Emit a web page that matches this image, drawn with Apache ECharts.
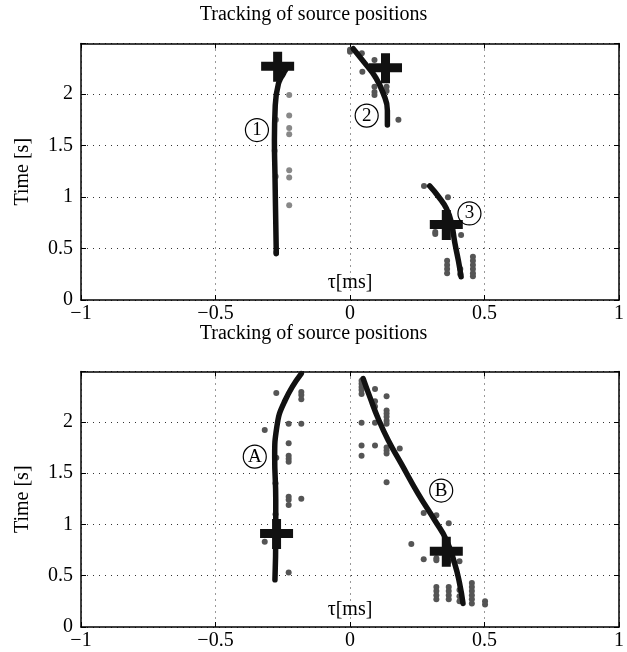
<!DOCTYPE html>
<html><head><meta charset="utf-8">
<script src="https://cdn.jsdelivr.net/npm/echarts@6/dist/echarts.min.js"></script>
<style>html,body{margin:0;padding:0;background:#fff}#c{width:627px;height:652px}</style>
</head><body><div id="c"></div>
<script>
// ---- data ----
const titleText = 'Tracking of source positions';
const xTicks = [-1, -0.5, 0, 0.5, 1];
const yTicks = [0, 0.5, 1, 1.5, 2];

// top panel
const top_curve1 = [[-0.274,0.45],[-0.277,0.91],[-0.279,1.23],[-0.281,1.55],[-0.278,1.88],[-0.266,2.10],[-0.247,2.20],[-0.240,2.23]];
const top_curve2 = [[0.012,2.44],[0.055,2.30],[0.093,2.17],[0.123,2.01],[0.139,1.84],[0.139,1.70]];
const top_curve3 = [[0.296,1.107],[0.330,1.00],[0.358,0.89],[0.376,0.76],[0.390,0.55],[0.403,0.38],[0.413,0.226]];
const top_dotsLight = [[-0.226,1.99],[-0.226,1.79],[-0.226,1.67],[-0.226,1.61],[-0.226,1.26],[-0.226,1.19],[-0.226,0.92],[-0.275,1.75],[-0.280,1.45],[-0.276,1.20],[-0.275,0.46]];
const top_dotsDark = [[0.0,2.43],[0.0,2.41],[0.044,2.395],[0.046,2.216],[0.091,2.33],[0.091,2.07],[0.091,2.02],[0.091,1.99],[0.136,2.07],[0.136,2.03],[0.18,1.75],[0.275,1.107],[0.364,0.997],[0.317,0.66],[0.317,0.64],[0.413,0.63],[0.361,0.38],[0.361,0.34],[0.361,0.30],[0.361,0.26],[0.457,0.42],[0.457,0.38],[0.457,0.34],[0.457,0.30],[0.457,0.26],[0.457,0.23],[0.41,0.30],[0.41,0.25]];
const top_crosses = [[-0.269,2.265],[0.132,2.25],[0.358,0.728]];
const top_labels = [[-0.346,1.65,'1'],[0.062,1.79,'2'],[0.444,0.84,'3']];

// bottom panel
const bot_curveA = [[-0.279,0.46],[-0.276,0.91],[-0.276,1.24],[-0.280,1.66],[-0.272,1.95],[-0.241,2.21],[-0.181,2.47]];
const bot_curveB = [[0.049,2.42],[0.074,2.24],[0.105,2.03],[0.142,1.82],[0.191,1.59],[0.253,1.30],[0.315,1.04],[0.358,0.85],[0.389,0.62],[0.407,0.43],[0.420,0.23]];
const bot_dots = [[-0.274,2.28],[-0.181,2.29],[-0.181,2.26],[-0.181,2.22],[-0.228,1.98],[-0.181,1.98],[-0.317,1.92],[-0.228,1.79],[-0.228,1.67],[-0.228,1.64],[-0.228,1.61],[-0.274,1.65],[-0.228,1.27],[-0.228,1.24],[-0.228,1.19],[-0.181,1.25],[-0.317,0.83],[-0.228,0.53],[-0.277,1.40],[-0.277,1.10],
  [0.043,2.40],[0.043,2.37],[0.043,2.34],[0.043,2.31],[0.093,2.32],[0.043,2.27],[0.093,2.20],[0.093,2.15],[0.136,2.25],[0.136,2.11],[0.136,2.08],[0.136,2.05],[0.136,2.01],[0.136,1.98],[0.043,1.99],[0.093,1.99],[0.043,1.77],[0.043,1.67],[0.093,1.77],[0.136,1.75],[0.136,1.72],[0.136,1.69],[0.185,1.74],[0.136,1.41],[0.274,1.11],[0.321,1.09],[0.367,1.01],[0.228,0.81],[0.274,0.66],[0.321,0.67],[0.321,0.65],[0.367,0.64],[0.407,0.64],[0.321,0.39],[0.321,0.35],[0.321,0.31],[0.321,0.27],[0.367,0.39],[0.367,0.35],[0.367,0.31],[0.367,0.27],[0.407,0.36],[0.407,0.30],[0.407,0.25],[0.453,0.43],[0.453,0.39],[0.453,0.35],[0.453,0.31],[0.453,0.27],[0.453,0.23],[0.502,0.25],[0.502,0.22]];
const bot_crosses = [[-0.273,0.906],[0.358,0.733]];
const bot_labels = [[-0.354,1.66,'A'],[0.339,1.33,'B']];

// ---- chart ----
const FONT = '"Liberation Serif","Times New Roman",serif';
const FS = 20;
const crossPath = 'path://M0,10H12V0H21V10H33V19H21V30H12V19H0Z';
const fmtX = v => xTicks.includes(v) ? String(v).replace('-', '\u2212') : '';
const fmtY = v => yTicks.includes(v) ? String(v) : '';

const grids = [
  {left:81, top:43.5, width:541, height:256.5},
  {left:81, top:371.5, width:541, height:255.5}
];
const xAxes = [], yAxes = [];
grids.forEach((g, i) => {
  xAxes.push({type:'value', gridIndex:i, min:-1, max:1, interval:0.5, position:'bottom',
    name:'\u03c4[ms]', nameLocation:'middle', nameGap:-27,
    nameTextStyle:{fontFamily:FONT, fontSize:FS, color:'#000'},
    axisLine:{show:true, onZero:false, lineStyle:{color:'#000', width:1.5}},
    axisTick:{show:true, inside:true, length:5, lineStyle:{color:'#000'}},
    axisLabel:{formatter:fmtX, fontFamily:FONT, fontSize:FS, color:'#000', margin:4},
    splitLine:{show:true, lineStyle:{color:'#333', type:[1,5], width:1}}
  });
  xAxes.push({type:'value', gridIndex:i, min:-1, max:1, interval:0.5, position:'top',
    axisLine:{show:true, onZero:false, lineStyle:{color:'#000', width:1.5}},
    axisTick:{show:true, inside:true, length:5, lineStyle:{color:'#000'}},
    axisLabel:{show:false}, splitLine:{show:false}
  });
  yAxes.push({type:'value', gridIndex:i, min:0, max:2.49, interval:0.5, position:'left',
    name:'Time [s]', nameLocation:'middle', nameGap:48,
    nameTextStyle:{fontFamily:FONT, fontSize:FS, color:'#000'},
    axisLine:{show:true, onZero:false, lineStyle:{color:'#000', width:1.5}},
    axisTick:{show:true, inside:true, length:5, lineStyle:{color:'#000'}},
    axisLabel:{formatter:fmtY, fontFamily:FONT, fontSize:FS, color:'#000', margin:8},
    splitLine:{show:true, lineStyle:{color:'#333', type:[1,5], width:1}}
  });
  yAxes.push({type:'value', gridIndex:i, min:0, max:2.49, interval:0.5, position:'right',
    axisLine:{show:true, onZero:false, lineStyle:{color:'#000', width:1.5}},
    axisTick:{show:true, inside:true, length:5, lineStyle:{color:'#000'}},
    axisLabel:{show:false}, splitLine:{show:false}
  });
});

function dots(data, gi, color){
  return {type:'scatter', xAxisIndex:gi*2, yAxisIndex:gi*2, data, symbol:'circle', symbolSize:6,
    itemStyle:{color, opacity:1}, silent:true, z:2};
}
function curve(data, gi){
  return {type:'line', xAxisIndex:gi*2, yAxisIndex:gi*2, data, smooth:0.5, showSymbol:false,
    lineStyle:{color:'#111', width:5.5, cap:'round'}, z:3};
}
function crosses(data, gi){
  return {type:'scatter', xAxisIndex:gi*2, yAxisIndex:gi*2, data, symbol:crossPath, symbolSize:[33,30],
    itemStyle:{color:'#111', opacity:1}, z:4};
}
function labels(data, gi){
  return {type:'scatter', xAxisIndex:gi*2, yAxisIndex:gi*2, data, symbol:'circle', symbolSize:23,
    itemStyle:{color:'rgba(255,255,255,0)', borderColor:'#000', borderWidth:1.2, opacity:1},
    label:{show:true, position:'inside', formatter:p => p.value[2], fontFamily:FONT, fontSize:19, color:'#000'},
    z:5};
}

const chart = echarts.init(document.getElementById('c'), null, {renderer:'canvas'});
chart.setOption({
  backgroundColor:'#fff',
  animation:false,
  title:[
    {text:titleText, left:'center', top:0, textStyle:{fontFamily:FONT, fontSize:FS, fontWeight:'normal', color:'#000'}},
    {text:titleText, left:'center', top:319, textStyle:{fontFamily:FONT, fontSize:FS, fontWeight:'normal', color:'#000'}}
  ],
  grid:grids,
  xAxis:xAxes,
  yAxis:yAxes,
  series:[
    dots(top_dotsLight, 0, '#888'),
    dots(top_dotsDark, 0, '#555'),
    curve(top_curve1, 0), curve(top_curve2, 0), curve(top_curve3, 0),
    crosses(top_crosses, 0),
    labels(top_labels, 0),
    dots(bot_dots, 1, '#555'),
    curve(bot_curveA, 1), curve(bot_curveB, 1),
    crosses(bot_crosses, 1),
    labels(bot_labels, 1)
  ]
});
</script></body></html>
